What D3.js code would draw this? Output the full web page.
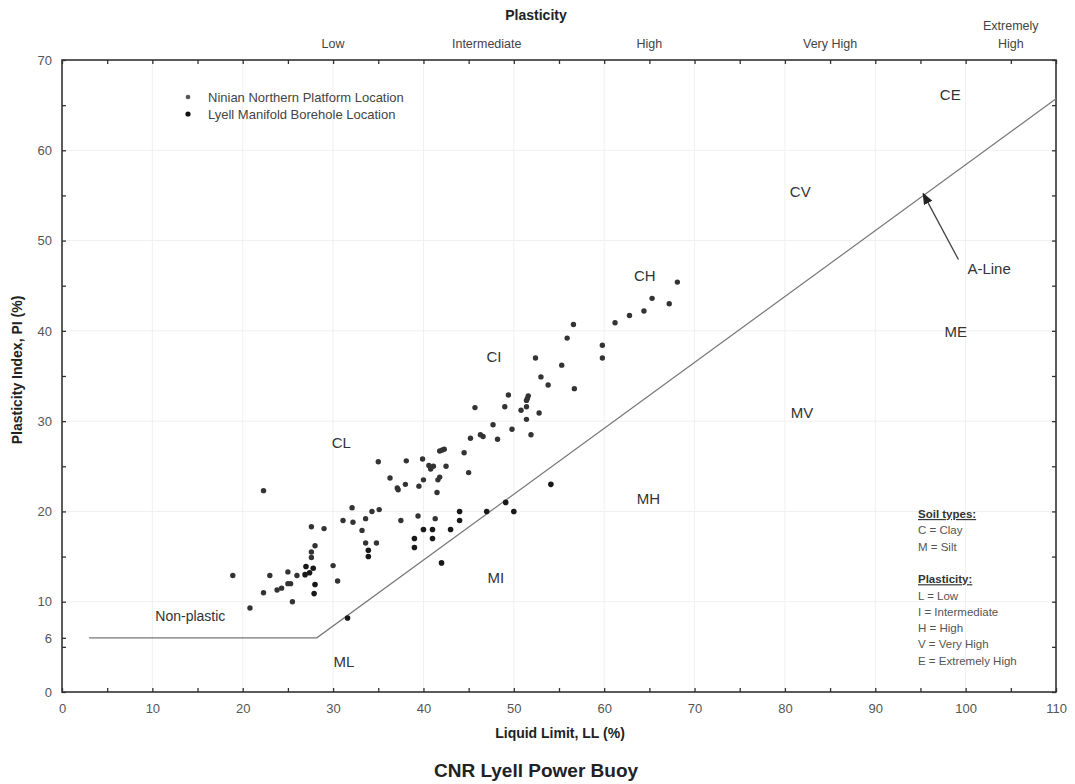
<!DOCTYPE html>
<html>
<head>
<meta charset="utf-8">
<script src="https://cdn.jsdelivr.net/npm/d3@7"></script>
<style>
  body { margin: 0; background: #fff; }
  text { font-family: "Liberation Sans", Arial, sans-serif; }
</style>
</head>
<body>
<svg id="chart" width="1075" height="784"></svg>
<script>
// Ninian Northern Platform Location [LL, PI]
var ninian = [
  [68.1, 45.4], [65.3, 43.6], [67.2, 43.0], [64.4, 42.2], [62.8, 41.7], [61.2, 40.9],
  [56.6, 40.7], [55.9, 39.2], [59.8, 38.4], [59.8, 37.0], [52.4, 37.0], [55.3, 36.2],
  [53.0, 34.9], [53.8, 34.0], [56.7, 33.6], [49.4, 32.9], [51.6, 32.8], [51.5, 32.5],
  [51.4, 32.3], [49.0, 31.6], [51.4, 31.6], [45.7, 31.5], [50.8, 31.2], [52.8, 30.9],
  [51.4, 30.2], [47.7, 29.6], [49.8, 29.1], [51.9, 28.5], [45.2, 28.1], [46.3, 28.5],
  [46.6, 28.3], [48.2, 28.0], [41.8, 26.7], [42.1, 26.8], [42.3, 26.9], [44.5, 26.5],
  [35.0, 25.5], [38.1, 25.6], [39.9, 25.8], [40.6, 25.1], [40.8, 24.9], [41.1, 25.0],
  [40.8, 24.7], [42.5, 25.0], [45.0, 24.3], [36.3, 23.7], [40.0, 23.5], [41.8, 23.8],
  [41.6, 23.5], [38.0, 23.0], [39.5, 22.8], [37.1, 22.6], [37.2, 22.4], [41.5, 22.1],
  [22.3, 22.3], [32.1, 20.4], [31.1, 19.0], [32.2, 18.8], [33.6, 19.2], [27.6, 18.3],
  [29.0, 18.1], [33.2, 17.9], [28.0, 16.2], [33.6, 16.5], [27.6, 15.5], [27.6, 14.9],
  [18.9, 12.9], [23.0, 12.9], [25.0, 13.3], [26.0, 12.9], [22.3, 11.0], [23.8, 11.3],
  [24.3, 11.5], [25.0, 12.0], [25.3, 12.0], [25.5, 10.0], [20.8, 9.3], [30.0, 14.0],
  [30.5, 12.3], [35.1, 20.2], [34.3, 20.0], [37.5, 19.0], [39.4, 19.5], [41.3, 19.2],
  [34.8, 16.5]
]

// Lyell Manifold Borehole Location [LL, PI]
var lyell = [
  [27.0, 13.9], [26.9, 13.0], [27.4, 13.2], [27.8, 13.7], [28.0, 11.9], [27.9, 10.9],
  [33.9, 15.7], [33.9, 15.0], [31.6, 8.2], [40.0, 18.0], [41.0, 18.0], [43.0, 18.0],
  [39.0, 17.0], [41.0, 17.0], [39.0, 16.0], [44.0, 20.0], [44.0, 19.0], [47.0, 20.0],
  [49.1, 21.0], [50.0, 20.0], [54.1, 23.0], [42.0, 14.3]
]

// A-line vertices [LL, PI]
var aLine = [[3, 6], [28.2, 6], [110, 65.7]]

var xTicks = [0, 10, 20, 30, 40, 50, 60, 70, 80, 90, 100, 110]
var yTicks = [0, 6, 10, 20, 30, 40, 50, 60, 70]

var plasticityBands = [
  { name: ['Low'], ll: 30 },
  { name: ['Intermediate'], ll: 47 },
  { name: ['High'], ll: 65 },
  { name: ['Very High'], ll: 85 },
  { name: ['Extremely', 'High'], ll: 105 }
]

var zones = [
  ['CE', 98.3, 66.2], ['CV', 81.7, 55.4], ['ME', 98.9, 39.9], ['MV', 81.9, 30.9],
  ['CH', 64.5, 46.1], ['CI', 47.8, 37.1], ['MH', 64.9, 21.4], ['CL', 30.9, 27.6],
  ['MI', 48.0, 12.7], ['ML', 31.2, 3.3], ['Non-plastic', 14.2, 8.4]
]

var soilNotes = [
  { t: 'Soil types:', head: true }, { t: 'C = Clay' }, { t: 'M = Silt' }, { t: '' },
  { t: 'Plasticity:', head: true }, { t: 'L = Low' }, { t: 'I = Intermediate' },
  { t: 'H = High' }, { t: 'V = Very High' }, { t: 'E = Extremely High' }
]

var svg = d3.select('#chart')
var pLeft = 62, pRight = 1056, pTop = 60, pBottom = 692

var x = d3.scaleLinear().domain([0, 110]).range([pLeft, pRight])
var y = d3.scaleLinear().domain([0, 70]).range([pBottom, pTop])

// faint grid
var grid = svg.append('g')
grid.selectAll('line.gx').data(xTicks.slice(1, -1)).enter().append('line')
  .attr('x1', d => x(d)).attr('x2', d => x(d)).attr('y1', pTop).attr('y2', pBottom)
  .attr('stroke', '#f0f0f0')
grid.selectAll('line.gy').data([10, 20, 30, 40, 50, 60]).enter().append('line')
  .attr('y1', d => y(d)).attr('y2', d => y(d)).attr('x1', pLeft).attr('x2', pRight)
  .attr('stroke', '#f0f0f0')

var minorX = d3.range(0, 111, 5)
var minorY = d3.range(0, 71, 5)

function styleAxis (g) {
  g.select('.domain').remove()
  g.selectAll('.tick line').attr('stroke', '#333').attr('stroke-width', 1.3)
  g.selectAll('.tick text').attr('fill', '#555').style('font-size', '13px')
}

svg.append('g').attr('transform', `translate(0,${pBottom})`)
  .call(d3.axisBottom(x).tickValues(minorX).tickSize(-4).tickPadding(12)
    .tickFormat(d => xTicks.includes(d) ? d : ''))
  .call(styleAxis)
svg.append('g').attr('transform', `translate(0,${pTop})`)
  .call(d3.axisTop(x).tickValues(minorX).tickSize(-4).tickFormat(''))
  .call(styleAxis)
svg.append('g').attr('transform', `translate(${pLeft},0)`)
  .call(d3.axisLeft(y).tickValues(minorY.concat([6])).tickSize(-4).tickPadding(10)
    .tickFormat(d => yTicks.includes(d) ? d : ''))
  .call(styleAxis)
svg.append('g').attr('transform', `translate(${pRight},0)`)
  .call(d3.axisRight(y).tickValues(minorY).tickSize(-4).tickFormat(''))
  .call(styleAxis)

// frame
svg.append('rect').attr('x', pLeft).attr('y', pTop)
  .attr('width', pRight - pLeft).attr('height', pBottom - pTop)
  .attr('fill', 'none').attr('stroke', '#333').attr('stroke-width', 1.6)

// A-line
svg.append('path').datum(aLine)
  .attr('d', d3.line().x(d => x(d[0])).y(d => y(d[1])))
  .attr('fill', 'none').attr('stroke', '#777').attr('stroke-width', 1.2)

// arrow to A-line
svg.append('defs').append('marker').attr('id', 'arr')
  .attr('viewBox', '0 0 10 10').attr('refX', 9).attr('refY', 5)
  .attr('markerWidth', 9).attr('markerHeight', 9).attr('orient', 'auto')
  .append('path').attr('d', 'M0,1 L10,5 L0,9 z').attr('fill', '#222')
svg.append('line')
  .attr('x1', x(99.2)).attr('y1', y(47.9)).attr('x2', x(95.3)).attr('y2', y(55.2))
  .attr('stroke', '#444').attr('stroke-width', 1.3).attr('marker-end', 'url(#arr)')
svg.append('text').attr('x', x(100.2)).attr('y', y(46.9)).attr('dy', '0.35em')
  .attr('fill', '#333').style('font-size', '15px').text('A-Line')

// zone labels
svg.selectAll('text.zone').data(zones).enter().append('text')
  .attr('x', d => x(d[1])).attr('y', d => y(d[2])).attr('dy', '0.35em')
  .attr('text-anchor', 'middle').attr('fill', '#333')
  .style('font-size', d => d[0] === 'Non-plastic' ? '14px' : '15px')
  .text(d => d[0])

// points
svg.append('g').selectAll('circle').data(ninian).enter().append('circle')
  .attr('cx', d => x(d[0])).attr('cy', d => y(d[1])).attr('r', 2.7).attr('fill', '#333')
svg.append('g').selectAll('circle').data(lyell).enter().append('circle')
  .attr('cx', d => x(d[0])).attr('cy', d => y(d[1])).attr('r', 2.8).attr('fill', '#181818')

// legend
var legend = [['Ninian Northern Platform Location', '#555', 2.3], ['Lyell Manifold Borehole Location', '#111', 2.6]]
var lg = svg.append('g').attr('transform', 'translate(188,97)')
lg.selectAll('circle').data(legend).enter().append('circle')
  .attr('cx', 0).attr('cy', (d, i) => i * 17).attr('r', d => d[2]).attr('fill', d => d[1])
lg.selectAll('text').data(legend).enter().append('text')
  .attr('x', 20).attr('y', (d, i) => i * 17).attr('dy', '0.35em')
  .attr('fill', '#444').style('font-size', '13px').text(d => d[0])

// soil notes
var sn = svg.append('g').attr('transform', 'translate(918,514)')
sn.selectAll('text').data(soilNotes).enter().append('text')
  .attr('x', 0).attr('y', (d, i) => i * 16.3).attr('dy', '0.35em')
  .attr('fill', d => d.head ? '#333' : '#555')
  .style('font-size', '11.5px')
  .style('font-weight', d => d.head ? 'bold' : 'normal')
  .style('text-decoration', d => d.head ? 'underline' : 'none')
  .text(d => d.t)

// top plasticity labels
svg.append('text').attr('x', 536).attr('y', 20).attr('text-anchor', 'middle')
  .attr('fill', '#222').style('font-size', '14px').style('font-weight', 'bold').text('Plasticity')
var bands = svg.append('g')
plasticityBands.forEach(b => {
  b.name.forEach((n, i) => {
    bands.append('text').attr('x', x(b.ll))
      .attr('y', 48 - (b.name.length - 1 - i) * 18)
      .attr('text-anchor', 'middle').attr('fill', '#444').style('font-size', '12.5px').text(n)
  })
})

// axis titles
svg.append('text').attr('x', 560).attr('y', 738).attr('text-anchor', 'middle')
  .attr('fill', '#222').style('font-size', '14px').style('font-weight', 'bold').text('Liquid Limit, LL (%)')
svg.append('text').attr('transform', 'translate(22,370) rotate(-90)').attr('text-anchor', 'middle')
  .attr('fill', '#222').style('font-size', '14px').style('font-weight', 'bold').text('Plasticity Index, PI (%)')
svg.append('text').attr('x', 536).attr('y', 777).attr('text-anchor', 'middle')
  .attr('fill', '#222').style('font-size', '19px').style('font-weight', 'bold').text('CNR Lyell Power Buoy')
</script>
</body>
</html>
